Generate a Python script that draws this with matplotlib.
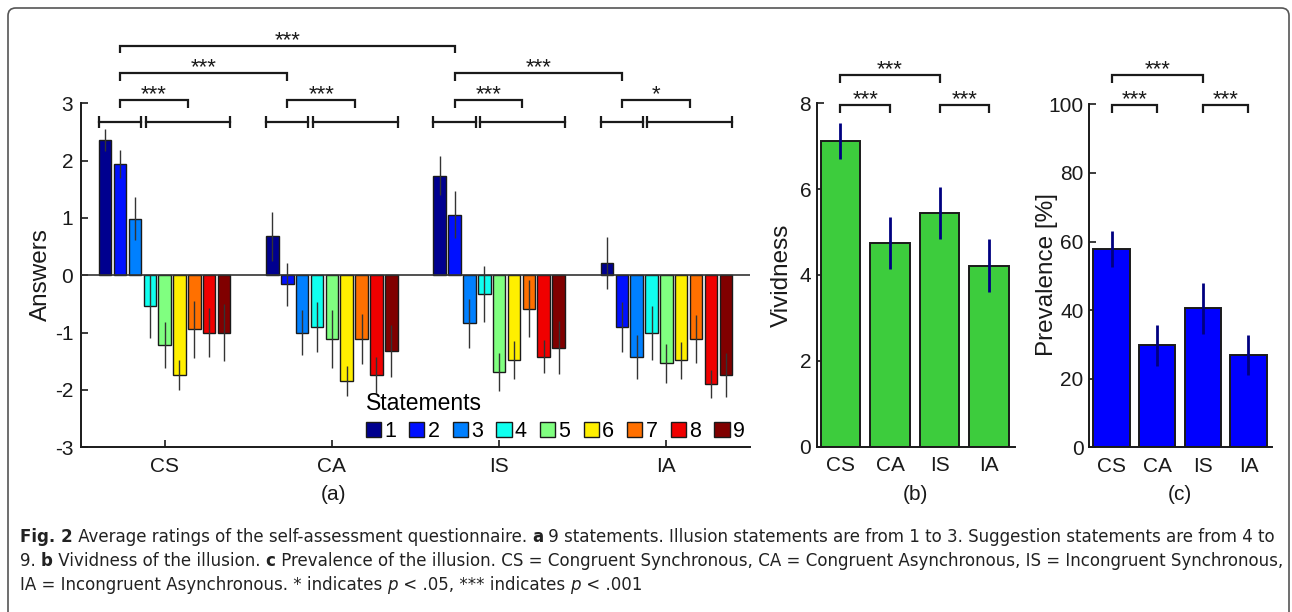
import matplotlib.pyplot as plt
import numpy as np
from matplotlib import font_manager
from matplotlib.patches import FancyBboxPatch

# data
conditions = ['CS', 'CA', 'IS', 'IA']
statements = ['1', '2', '3', '4', '5', '6', '7', '8', '9']

# rows = conditions, columns = statements
answers_mean = np.array([
    [2.36, 1.94, 0.99, -0.54, -1.22, -1.74, -0.94, -1.00, -1.00],
    [0.68, -0.16, -1.00, -0.90, -1.11, -1.84, -1.11, -1.74, -1.32],
    [1.74, 1.06, -0.84, -0.32, -1.68, -1.48, -0.58, -1.42, -1.26],
    [0.21, -0.90, -1.42, -1.00, -1.53, -1.48, -1.11, -1.90, -1.74],
])
answers_err = np.array([
    [0.20, 0.25, 0.38, 0.55, 0.40, 0.26, 0.50, 0.43, 0.50],
    [0.43, 0.38, 0.39, 0.44, 0.50, 0.26, 0.43, 0.32, 0.45],
    [0.34, 0.41, 0.43, 0.49, 0.33, 0.33, 0.49, 0.29, 0.46],
    [0.45, 0.43, 0.38, 0.47, 0.34, 0.32, 0.42, 0.24, 0.38],
])
group_stars = ['***', '***', '***', '*']

vividness_mean = [7.12, 4.74, 5.45, 4.22]
vividness_err = [0.42, 0.60, 0.61, 0.62]
prevalence_mean = [57.8, 29.8, 40.5, 26.9]
prevalence_err = [5.2, 6.0, 7.5, 5.9]

# caption: (text, weight, style) pieces per line
caption = [
    [('Fig. 2', 'bold', 'normal'),
     (' Average ratings of the self-assessment questionnaire. ', 'normal', 'normal'),
     ('a', 'bold', 'normal'),
     (' 9 statements. Illusion statements are from 1 to 3. Suggestion statements are from 4 to',
      'normal', 'normal')],
    [('9. ', 'normal', 'normal'), ('b', 'bold', 'normal'),
     (' Vividness of the illusion. ', 'normal', 'normal'), ('c', 'bold', 'normal'),
     (' Prevalence of the illusion. CS = Congruent Synchronous, CA = Congruent Asynchronous, '
      'IS = Incongruent Synchronous,', 'normal', 'normal')],
    [('IA = Incongruent Asynchronous. * indicates ', 'normal', 'normal'),
     ('p', 'normal', 'italic'), (' < .05, *** indicates ', 'normal', 'normal'),
     ('p', 'normal', 'italic'), (' < .001', 'normal', 'normal')],
]

# styles
jet9 = ['#00008F', '#0010FF', '#0080FF', '#10FFEF', '#80FF80',
        '#FFEF00', '#FF7000', '#F00000', '#800000']
green = '#3DCC3D'
blue = '#0000FF'
ink = '#1a1a1a'

plt.rcParams['font.family'] = ['Liberation Sans', 'DejaVu Sans']
plt.rcParams['axes.unicode_minus'] = False

# a narrow face for the caption if one is installed
cap_font, cap_stretch = 'Liberation Sans', 'normal'
for f in font_manager.fontManager.ttflist:
    if f.name == 'Liberation Sans Narrow':
        cap_font, cap_stretch = 'Liberation Sans Narrow', 'normal'
        break
    if f.name == 'DejaVu Sans' and f.stretch == 'condensed':
        cap_font, cap_stretch = 'DejaVu Sans', 'condensed'

W, H = 1292, 612
fig = plt.figure(figsize=(W / 100, H / 100), dpi=100)
renderer = fig.canvas.get_renderer()


def px_axes(left, right, top, bottom):
    return fig.add_axes([left / W, 1 - bottom / H, (right - left) / W, (bottom - top) / H])


def style(ax, ypad):
    for s in ['top', 'right']:
        ax.spines[s].set_visible(False)
    for s in ['left', 'bottom']:
        ax.spines[s].set_linewidth(1.4)
        ax.spines[s].set_color(ink)
    ax.tick_params(direction='in', length=5, width=1.2, labelsize=15, colors=ink)
    ax.tick_params(axis='y', pad=ypad)
    ax.tick_params(axis='x', pad=7)


def bracket(ax, x1, x2, y, leg, label):
    ax.plot([x1, x1, x2, x2], [y - leg, y, y, y - leg], color=ink, lw=1.6,
            clip_on=False, solid_joinstyle='miter', solid_capstyle='butt')
    ax.text((x1 + x2) / 2, y, label, ha='center', va='baseline', fontsize=16,
            color=ink, clip_on=False)


def caption_line(pieces, x0, y0, size, draw=True):
    # lay the pieces side by side, measuring each one
    xp = x0
    for s, wt, st in pieces:
        t = fig.text(xp / W, 1 - y0 / H, s, ha='left', va='center', fontsize=size,
                     family=cap_font, fontstretch=cap_stretch, weight=wt, style=st,
                     color='#222222')
        xp += t.get_window_extent(renderer=renderer).width
        if not draw:
            t.remove()
    return xp - x0


# (a) answers per statement
ax = px_axes(81, 750, 103.3, 447.3)
x = np.arange(1, len(conditions) + 1)
slot = 0.8 / len(statements)
bw = slot * 0.84
offs = (np.arange(len(statements)) - 4) * slot
for j, lab in enumerate(statements):
    ax.bar(x + offs[j], answers_mean[:, j], bw, color=jet9[j], edgecolor=ink,
           linewidth=1, label=lab, zorder=2)
    ax.errorbar(x + offs[j], answers_mean[:, j], yerr=answers_err[:, j], fmt='none',
                ecolor='#333333', elinewidth=1, zorder=3)
ax.axhline(0, color='#333333', lw=1.2, zorder=4)
ax.set_xlim(0.5, 4.5)
ax.set_ylim(-3, 3)
ax.set_yticks(range(-3, 4))
ax.set_xticks(x)
ax.set_xticklabels(conditions)
style(ax, 5.5)

s1 = (offs[0] - bw / 2, offs[2] + bw / 2)
s2 = (offs[3] - bw / 2 + 0.012, offs[8] + bw / 2)
m1, m2 = sum(s1) / 2, sum(s2) / 2
for i, xc in enumerate(x):
    for a, b in (s1, s2):
        ax.plot([xc + a, xc + b], [2.67, 2.67], color=ink, lw=1.6, marker='|',
                markersize=8, mew=1.6, clip_on=False)
    bracket(ax, xc + m1, xc + m2, 3.05, 0.14, group_stars[i])
bracket(ax, 1 + m1, 2 + m1, 3.52, 0.13, '***')
bracket(ax, 3 + m1, 4 + m1, 3.52, 0.13, '***')
bracket(ax, 1 + m1, 3 + m1, 4.0, 0.13, '***')

leg = ax.legend(title='Statements', ncol=9, loc='lower right', bbox_to_anchor=(1.0, 0.0),
                frameon=False, fontsize=15.5, title_fontsize=16.5, handlelength=0.7,
                handleheight=0.65, handletextpad=0.15, columnspacing=0.62,
                borderaxespad=0.1, borderpad=0.15, labelspacing=0.2, alignment='left')
leg._legend_box.sep = 4
fig.text(41 / W, 1 - 275 / H, 'Answers', rotation=90, ha='center', va='center',
         fontsize=17.5, color=ink)

# (b) vividness
ax = px_axes(816.7, 1015, 103.3, 446.7)
ax.bar(x, vividness_mean, 0.8, color=green, edgecolor=ink, linewidth=1.4, zorder=2)
ax.errorbar(x, vividness_mean, yerr=vividness_err, fmt='none', ecolor='#000080',
            elinewidth=2, zorder=3)
ax.set_xlim(0.52, 4.52)
ax.set_ylim(0, 8)
ax.set_yticks([0, 2, 4, 6, 8])
ax.set_xticks(x)
ax.set_xticklabels(conditions)
style(ax, 4)
bracket(ax, 1, 2, 7.96, 0.19, '***')
bracket(ax, 3, 4, 7.96, 0.19, '***')
bracket(ax, 1, 3, 8.66, 0.19, '***')
fig.text(782 / W, 1 - 275 / H, 'Vividness', rotation=90, ha='center', va='center',
         fontsize=17.5, color=ink)

# (c) prevalence
ax = px_axes(1089.3, 1271.7, 104.3, 447.3)
ax.bar(x, prevalence_mean, 0.8, color=blue, edgecolor=ink, linewidth=1.4, zorder=2)
ax.errorbar(x, prevalence_mean, yerr=prevalence_err, fmt='none', ecolor='#000080',
            elinewidth=2, zorder=3)
ax.set_xlim(0.51, 4.51)
ax.set_ylim(0, 100)
ax.set_yticks(range(0, 101, 20))
ax.set_xticks(x)
ax.set_xticklabels(conditions)
style(ax, 4)
bracket(ax, 1, 2, 99.8, 2.4, '***')
bracket(ax, 3, 4, 99.8, 2.4, '***')
bracket(ax, 1, 3, 108.5, 2.4, '***')
fig.text(1047 / W, 1 - 275 / H, 'Prevalence [%]', rotation=90, ha='center', va='center',
         fontsize=17.5, color=ink)

# panel letters
for lab, xp in (('(a)', 333), ('(b)', 915), ('(c)', 1180)):
    fig.text(xp / W, 1 - 494 / H, lab, ha='center', va='center', fontsize=15, color=ink)

# caption, sized so the first line runs from x=20 to x=1276
probe = caption_line(caption[0], 20, 537, 10, draw=False)
cap_size = 10 * 1256 / probe
for k, pieces in enumerate(caption):
    caption_line(pieces, 20, 537 + 24 * k, cap_size)

# rounded frame around the figure, open at the bottom edge
frame = FancyBboxPatch((8 / W, -0.1), (1289 - 8) / W, 0.1 + (612 - 8) / H,
                       boxstyle='round,pad=0,rounding_size=0.006', mutation_aspect=W / H,
                       transform=fig.transFigure, facecolor='none', edgecolor='#555555',
                       linewidth=1.2, clip_on=False)
fig.patches.append(frame)

fig.savefig('out.png', dpi=100)
